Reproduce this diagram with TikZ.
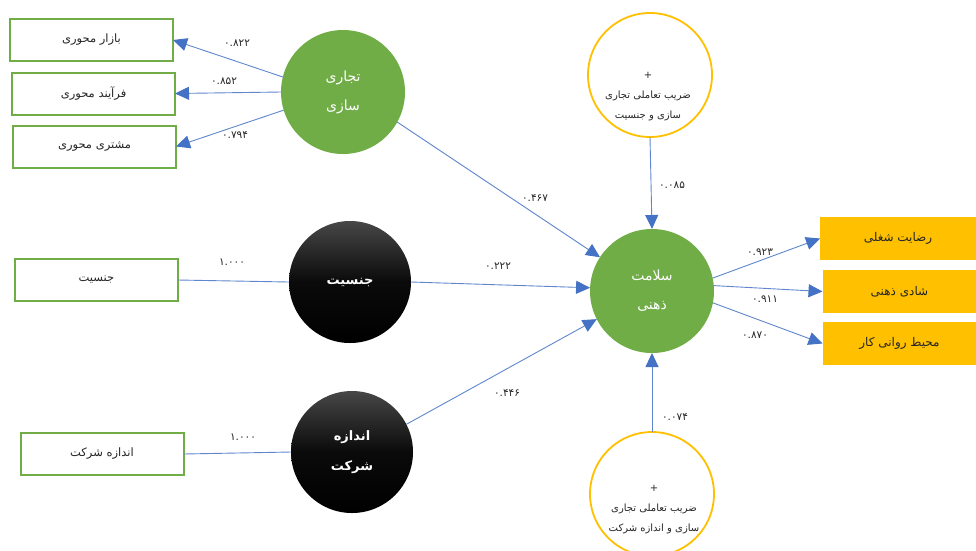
\documentclass[tikz,border=0pt]{standalone}
\usepackage{fontspec}
\usetikzlibrary{arrows.meta,shapes.geometric}
\TeXXeTstate=1
\newfontfamily\arabicfont[Script=Arabic]{DejaVu Sans}
\newfontfamily\arabicbold[Script=Arabic]{DejaVu Sans Bold}
\newcommand{\fatxt}[1]{{\beginR #1\endR}}
\definecolor{lgreen}{HTML}{70AD47}
\definecolor{lorange}{HTML}{FFC000}
\definecolor{lblue}{HTML}{4472C4}
\definecolor{ltext}{HTML}{262626}
\tikzset{
  every node/.style={inner sep=0pt, outer sep=0pt},
  gbox/.style={draw=lgreen, line width=2pt, fill=white, minimum width=163pt, minimum height=42pt, font=\arabicfont\fontsize{11.5}{14}\selectfont, text=ltext},
  obox/.style={fill=lorange, minimum width=154pt, minimum height=43pt, font=\arabicfont\fontsize{12}{14}\selectfont, text=ltext},
  gcirc/.style={circle, fill=lgreen, minimum size=124pt, align=center, text=white, font=\arabicfont\fontsize{14}{29}\selectfont},
  bcirc/.style={circle, top color=black!72, bottom color=black, middle color=black!96, minimum size=122pt, align=center, text=white, font=\arabicbold\fontsize{13}{30}\selectfont},
  ycirc/.style={circle, draw=lorange, line width=1.8pt, fill=white, minimum size=124pt},
  ytext/.style={align=center, text=ltext, font=\arabicfont\fontsize{10}{20}\selectfont},
  num/.style={text=ltext, font=\arabicfont\fontsize{10.5}{12}\selectfont},
  conn/.style={draw=lblue!85, line width=0.9pt},
  arr/.style={conn, -{Triangle[length=14pt,width=13pt,fill=lblue,color=lblue]}},
}
\begin{document}
\begin{tikzpicture}[x=1pt,y=-1pt]
\useasboundingbox[fill=white] (0,0) rectangle (976,550);
% left boxes
\node[gbox] (b1) at (91.5,40) {\fatxt{بازار محوری}};
\node[gbox] (b2) at (93.5,93.5) {\fatxt{فرآیند محوری}};
\node[gbox] (b3) at (94.5,146.5) {\fatxt{مشتری محوری}};
\node[gbox] (bg) at (96.5,280) {\fatxt{جنسیت}};
\node[gbox] (bs) at (102,454) {\fatxt{اندازه شرکت}};
% right boxes
\node[obox, minimum width=156pt] (r1) at (898,238.5) {\fatxt{رضایت شغلی}};
\node[obox] (r2) at (899.5,291.5) {\fatxt{شادی ذهنی}};
\node[obox] (r3) at (899.5,343.5) {\fatxt{محیط روانی کار}};
% circles
\node[gcirc] (tj) at (343,92) {\fatxt{تجاری}\\\fatxt{سازی}};
\node[gcirc] (mh) at (652,291) {\fatxt{سلامت}\\\fatxt{ذهنی}};
\node[bcirc] (gc) at (350,282) {\fatxt{جنسیت}};
\node[bcirc] (sc) at (352,452) {\fatxt{اندازه}\\\fatxt{شرکت}};
\node[ycirc] (y1) at (650,75) {};
\node[ytext] (y1t) at (648,97) {+\\\fatxt{ضریب تعاملی تجاری}\\\fatxt{سازی و جنسیت}};
\node[ycirc] (y2) at (652,494) {};
\node[ytext] (y2t) at (654,510) {+\\\fatxt{ضریب تعاملی تجاری}\\\fatxt{سازی و اندازه شرکت}};
% connectors
\draw[arr] (tj.166) -- (b1.east);
\draw[arr] (tj.180) -- (b2.east);
\draw[arr] (tj.197) -- (b3.east);
\draw[arr] (tj.-29) -- (mh.147);
\draw[conn] (bg.east) -- (gc.west);
\draw[conn] (bs.east) -- (sc.west);
\draw[arr] (gc.0) -- (mh.177);
\draw[arr] (sc.27) -- (mh.207);
\draw[arr] (y1.south) -- (mh.north);
\draw[arr] (y2.north) -- (mh.south);
\draw[arr] (mh.12) -- (r1.west);
\draw[arr] (mh.5) -- (r2.west);
\draw[arr] (mh.-11) -- (r3.west);
% numbers
\node[num] (n1) at (237,43) {۰.۸۲۲};
\node[num] (n2) at (224,81) {۰.۸۵۲};
\node[num] (n3) at (235,135) {۰.۷۹۴};
\node[num] (n4) at (535,198) {۰.۴۶۷};
\node[num] (n5) at (672,185) {۰.۰۸۵};
\node[num] (n6) at (232,262) {۱.۰۰۰};
\node[num] (n7) at (498,266) {۰.۲۲۲};
\node[num] (n8) at (243,437) {۱.۰۰۰};
\node[num] (n9) at (507,393) {۰.۴۴۶};
\node[num] (n10) at (675,417) {۰.۰۷۴};
\node[num] (n11) at (760,252) {۰.۹۲۳};
\node[num] (n12) at (765,299) {۰.۹۱۱};
\node[num] (n13) at (755,335) {۰.۸۷۰};
\end{tikzpicture}
\end{document}
